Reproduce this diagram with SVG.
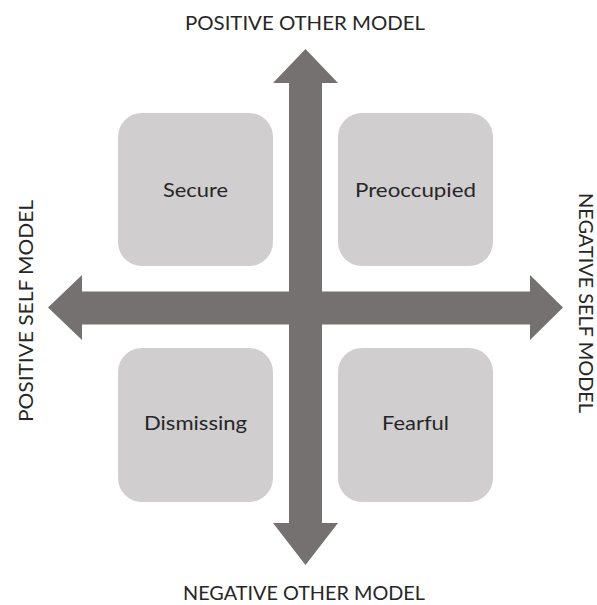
<svg xmlns="http://www.w3.org/2000/svg" width="597" height="605" viewBox="0 0 597 605">
  <style>
    .box { fill: #d0cecf; }
    .arrow { fill: #767171; }
    text { font-family: "Lato", "Open Sans", "Liberation Sans", sans-serif; fill: #262626; }
    .lbl { font-size: 19px; text-anchor: middle; }
    .axis { font-size: 19px; text-anchor: middle; }
  </style>
  <rect width="597" height="605" fill="#ffffff"/>

  <!-- quadrant boxes -->
  <g id="secure">
    <rect class="box" x="118" y="113" width="155" height="153" rx="24"/>
    <text class="lbl" x="195.5" y="197" textLength="65" lengthAdjust="spacingAndGlyphs">Secure</text>
  </g>
  <g id="preoccupied">
    <rect class="box" x="338" y="113" width="155" height="153" rx="24"/>
    <text class="lbl" x="415.5" y="197" textLength="121" lengthAdjust="spacingAndGlyphs">Preoccupied</text>
  </g>
  <g id="dismissing">
    <rect class="box" x="118" y="348" width="155" height="154" rx="24"/>
    <text class="lbl" x="195.5" y="430" textLength="103" lengthAdjust="spacingAndGlyphs">Dismissing</text>
  </g>
  <g id="fearful">
    <rect class="box" x="338" y="348" width="155" height="154" rx="24"/>
    <text class="lbl" x="415.5" y="430" textLength="67" lengthAdjust="spacingAndGlyphs">Fearful</text>
  </g>

  <!-- double-headed axes -->
  <g id="connectors">
    <path class="arrow" d="M305.5,49 L338,83 L322,83 L322,523 L338,523 L305.5,565 L273,523 L289,523 L289,83 L273,83 Z"/>
    <path class="arrow" d="M48,307.5 L82,275 L82,291.5 L530,291.5 L530,275 L563,307.5 L530,340 L530,324.5 L82,324.5 L82,340 Z"/>
  </g>

  <!-- axis labels -->
  <g id="label-top">
    <text class="axis" x="305" y="30" textLength="240" lengthAdjust="spacingAndGlyphs">POSITIVE OTHER MODEL</text>
  </g>
  <g id="label-bottom">
    <text class="axis" x="304" y="600" textLength="242" lengthAdjust="spacingAndGlyphs">NEGATIVE OTHER MODEL</text>
  </g>
  <g id="label-left">
    <text class="axis" transform="translate(33,311) rotate(-90)" x="0" y="0" textLength="222" lengthAdjust="spacingAndGlyphs">POSITIVE SELF MODEL</text>
  </g>
  <g id="label-right">
    <text class="axis" transform="translate(579,303) rotate(90)" x="0" y="0" textLength="220" lengthAdjust="spacingAndGlyphs">NEGATIVE SELF MODEL</text>
  </g>
</svg>
